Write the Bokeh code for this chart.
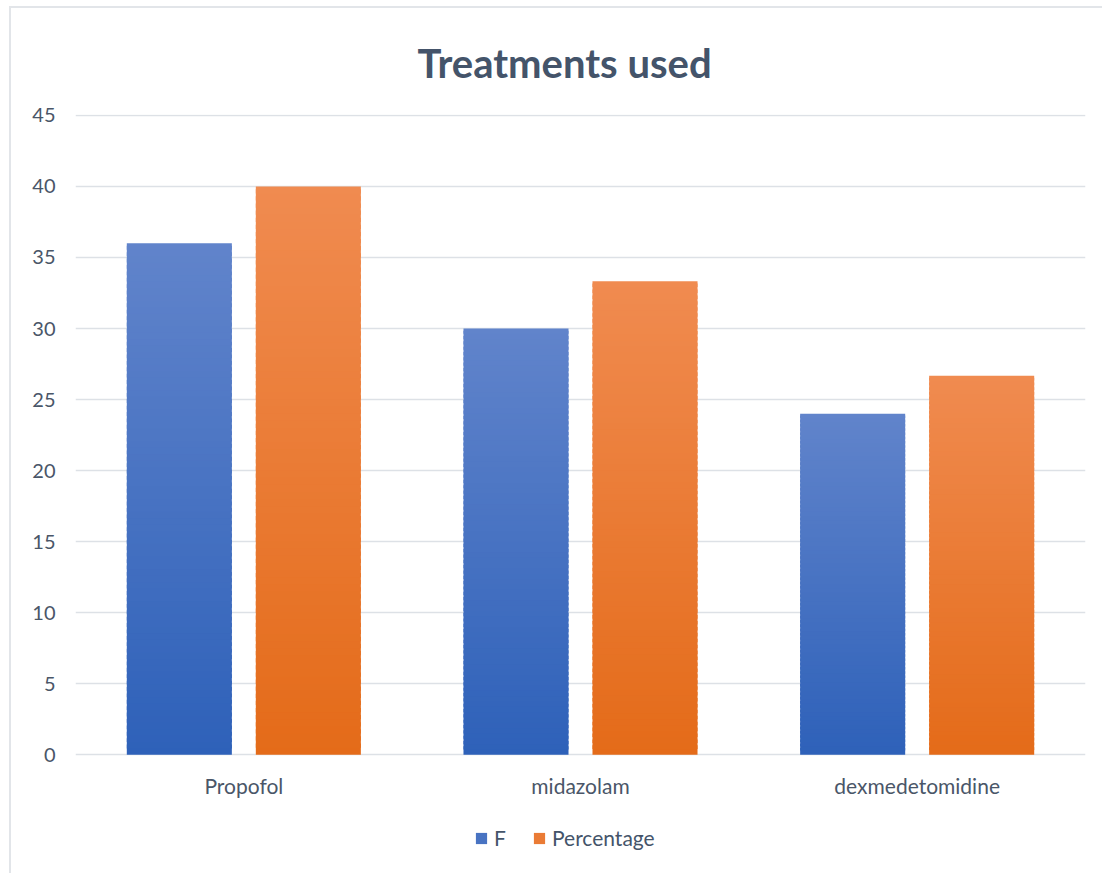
from bokeh.plotting import figure
from bokeh.models import (ColumnDataSource, FactorRange, Range1d, FixedTicker,
                          Legend, LegendItem)
from bokeh.core.properties import value
from bokeh.transform import dodge
from bokeh.embed import file_html
from bokeh.resources import INLINE

# ---- data ----
categories = ["Propofol", "midazolam", "dexmedetomidine"]
f_values = [36, 30, 24]
pct_values = [40.0, 33.33, 26.67]
series_names = ["F", "Percentage"]
y_ticks = [0, 5, 10, 15, 20, 25, 30, 35, 40, 45]

# ---- style ----
TEXT = "#44546A"
LABEL = "#4A5668"
GRID = "#DDE1E6"
FONT = "Lato"
blue_top, blue_bot = (0x61, 0x84, 0xCB), (0x2E, 0x61, 0xB9)
orng_top, orng_bot = (0xF0, 0x8B, 0x50), (0xE4, 0x6B, 0x19)
N = 80

# layout geometry (pixels inside the figure)
FIG_W, FIG_H = 1093, 867
TOP, LEFT, RIGHT = 104, 64, 19
ZERO_PX = 746          # where value 0 sits, measured from figure top
Y_MAX = 45.06
frame_h = FIG_H - TOP
y_start = Y_MAX - Y_MAX * frame_h / (ZERO_PX - TOP)


def hexc(c):
    return "#%02x%02x%02x" % tuple(int(round(v)) for v in c)


def gradient_source(values, top, bot, n=N):
    xs, b, t, col = [], [], [], []
    for cat, v in zip(categories, values):
        for i in range(n):
            frac = (i + 0.5) / n  # 0 bottom -> 1 top
            c = [bot[k] + (top[k] - bot[k]) * frac for k in range(3)]
            xs.append(cat)
            b.append(v * i / n)
            # slight overlap with the next slice hides seams
            t.append(v * min(i + 1.6, n) / n)
            col.append(hexc(c))
    return ColumnDataSource(dict(x=xs, bottom=b, top=t, color=col))


p = figure(x_range=FactorRange(*categories, range_padding=0), y_range=Range1d(y_start, Y_MAX),
           width=FIG_W, height=FIG_H, output_backend="svg", toolbar_location=None,
           min_border_left=LEFT, min_border_right=RIGHT, min_border_top=TOP, min_border_bottom=0,
           title="Treatments used")
p.margin = (6, 0, 0, 9)
p.styles = {"border-top": "2px solid #E2E5E9", "border-left": "2px solid #E2E5E9"}

p.title.align = "left"
p.title.offset = 342
p.title.text_font = FONT
p.title.text_font_style = "bold"
p.title.text_font_size = "40px"
p.title.text_color = TEXT
p.title.standoff = 56

p.outline_line_color = None
p.background_fill_color = "white"
p.border_fill_color = "white"

width = 0.312
off = 0.1916
src_f = gradient_source(f_values, blue_top, blue_bot)
src_p = gradient_source(pct_values, orng_top, orng_bot)
rf = p.vbar(x=dodge("x", -off, range=p.x_range), bottom="bottom", top="top", width=width,
            source=src_f, fill_color="color", line_color=None)
rp = p.vbar(x=dodge("x", off, range=p.x_range), bottom="bottom", top="top", width=width,
            source=src_p, fill_color="color", line_color=None)

# category labels under the baseline
p.text(x=categories, y=[0] * len(categories), text=categories, y_offset=31,
       text_align="center", text_baseline="middle", text_font=value(FONT),
       text_font_size="21px", text_color=LABEL)

legend = Legend(items=[LegendItem(label=series_names[0], renderers=[rf], index=N // 2),
                       LegendItem(label=series_names[1], renderers=[rp], index=N // 2)],
                orientation="horizontal", location=(399, 25))
legend.glyph_width = 14
legend.glyph_height = 14
legend.label_text_font = FONT
legend.label_text_font_size = "21px"
legend.label_text_color = TEXT
legend.label_standoff = 6
legend.spacing = 18
legend.border_line_color = None
legend.background_fill_alpha = 0
legend.margin = 0
legend.padding = 4
p.add_layout(legend)

# axes
p.xaxis.visible = False
p.yaxis.ticker = FixedTicker(ticks=y_ticks)
p.yaxis.axis_line_color = None
p.yaxis.major_tick_line_color = None
p.yaxis.minor_tick_line_color = None
p.yaxis.major_label_text_font = FONT
p.yaxis.major_label_text_color = LABEL
p.yaxis.major_label_text_font_size = "20px"
p.yaxis.major_label_standoff = 14

p.xgrid.grid_line_color = None
p.ygrid.grid_line_color = GRID
p.ygrid.grid_line_width = 1.6

open("out.html", "w").write(file_html(p, INLINE))
